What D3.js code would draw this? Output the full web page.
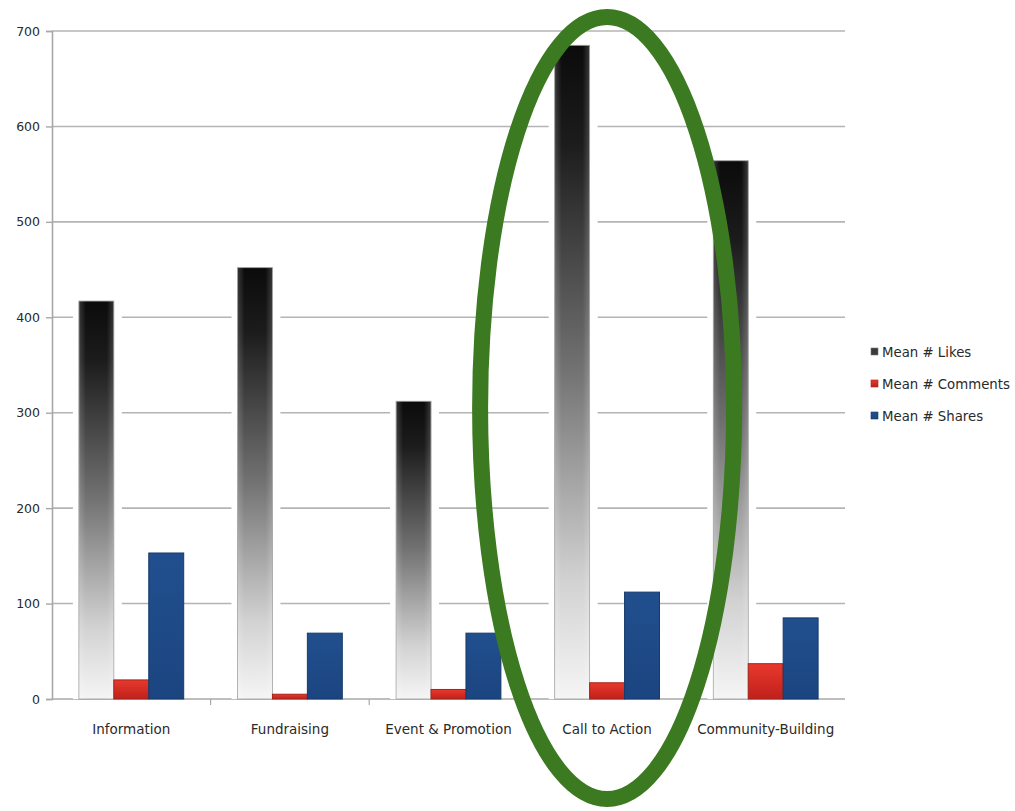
<!DOCTYPE html>
<html>
<head>
<meta charset="utf-8">
<script src="https://cdn.jsdelivr.net/npm/d3@7/dist/d3.min.js"></script>
<style>
  html, body { margin: 0; padding: 0; background: #fff; }
  svg { display: block; }
  text { font-family: "DejaVu Sans", "Lucida Grande", sans-serif; fill: #2a2a2a; }
</style>
</head>
<body>
<svg id="chart" width="1015" height="811"></svg>
<script>
// Post types and the mean engagement per post
const categories = ["Information", "Fundraising", "Event & Promotion", "Call to Action", "Community-Building"];
const seriesNames = ["Mean # Likes", "Mean # Comments", "Mean # Shares"];
const likes    = [417, 452, 312, 685, 564];
const comments = [20, 5, 10, 17, 37];
const shares   = [153, 69, 69, 112, 85];
const yTicks   = [0, 100, 200, 300, 400, 500, 600, 700];
const highlighted = "Call to Action";

const seriesValues = [likes, comments, shares];

const svg = d3.select("#chart");
const plot = { left: 52, right: 845, top: 31, bottom: 699 };

const x = d3.scaleBand().domain(categories).range([plot.left, plot.right]).padding(0);
const xs = d3.scaleBand().domain(seriesNames).range([0, x.bandwidth()]).paddingInner(0).paddingOuter(0.77);
const y = d3.scaleLinear().domain([0, 700]).range([plot.bottom, plot.top]);

// Gradients
const defs = svg.append("defs");
const gLikes = defs.append("linearGradient").attr("id", "likesGrad")
  .attr("x1", 0).attr("y1", 0).attr("x2", 0).attr("y2", 1);
[[0, "#0b0b0b"], [0.15, "#1c1c1c"], [0.5, "#737373"], [0.82, "#d2d2d2"], [1, "#f5f5f5"]]
  .forEach(([o, c]) => gLikes.append("stop").attr("offset", o).attr("stop-color", c));
const gLikesH = defs.append("linearGradient").attr("id", "likesSheen")
  .attr("x1", 0).attr("y1", 0).attr("x2", 1).attr("y2", 0);
[[0, "#ffffff", 0.18], [0.2, "#ffffff", 0], [0.8, "#ffffff", 0], [1, "#ffffff", 0.18]]
  .forEach(([o, c, a]) => gLikesH.append("stop").attr("offset", o).attr("stop-color", c).attr("stop-opacity", a));
const gRed = defs.append("linearGradient").attr("id", "redGrad")
  .attr("x1", 0).attr("y1", 0).attr("x2", 0).attr("y2", 1);
[[0, "#e8392c"], [1, "#c0201b"]]
  .forEach(([o, c]) => gRed.append("stop").attr("offset", o).attr("stop-color", c));
const gBlue = defs.append("linearGradient").attr("id", "blueGrad")
  .attr("x1", 0).attr("y1", 0).attr("x2", 0).attr("y2", 1);
[[0, "#214f8e"], [1, "#1b4580"]]
  .forEach(([o, c]) => gBlue.append("stop").attr("offset", o).attr("stop-color", c));

const fills = ["url(#likesGrad)", "url(#redGrad)", "url(#blueGrad)"];
const strokes = ["#9a9a9a", "#a3241d", "#163a6a"];

// Gridlines
svg.append("g")
  .selectAll("line").data(yTicks.filter(d => d > 0)).join("line")
  .attr("x1", plot.left).attr("x2", plot.right)
  .attr("y1", d => y(d)).attr("y2", d => y(d))
  .attr("stroke", "#b4b4b4").attr("stroke-width", 1.6);

// Y axis
const yAxis = svg.append("g").attr("transform", `translate(${plot.left},0)`)
  .call(d3.axisLeft(y).tickValues(yTicks).tickSize(6).tickPadding(6));
yAxis.select(".domain").attr("stroke", "#a8a8a8").attr("stroke-width", 1.6);
yAxis.selectAll(".tick line").attr("stroke", "#a8a8a8").attr("stroke-width", 1.4);
yAxis.selectAll(".tick text").style("font-size", "12.5px").attr("fill", "#2a2a2a");

// X axis baseline with separators between categories
svg.append("line")
  .attr("x1", plot.left).attr("x2", plot.right)
  .attr("y1", plot.bottom).attr("y2", plot.bottom)
  .attr("stroke", "#a8a8a8").attr("stroke-width", 1.6);
svg.append("g").selectAll("line").data(categories.slice(1)).join("line")
  .attr("x1", d => x(d)).attr("x2", d => x(d))
  .attr("y1", plot.bottom).attr("y2", plot.bottom + 6)
  .attr("stroke", "#a8a8a8").attr("stroke-width", 1.2);
svg.append("g").selectAll("text").data(categories).join("text")
  .attr("x", d => x(d) + x.bandwidth() / 2)
  .attr("y", 734)
  .attr("text-anchor", "middle")
  .style("font-size", "13.5px")
  .text(d => d);

// Bars
const groups = svg.append("g").selectAll("g").data(categories).join("g")
  .attr("transform", d => `translate(${x(d)},0)`);

groups.each(function(cat, ci) {
  const g = d3.select(this);
  seriesNames.forEach((s, si) => {
    const v = seriesValues[si][ci];
    const bx = xs(s), bw = xs.bandwidth(), by = y(v), bh = y(0) - y(v);
    if (si === 0) {
      // soft white halo behind the gradient bars
      g.append("rect")
        .attr("x", bx - 6).attr("y", by - 3)
        .attr("width", bw + 14).attr("height", bh + 3)
        .attr("fill", "#fff");
    }
    g.append("rect")
      .attr("x", bx).attr("y", by).attr("width", bw).attr("height", bh)
      .attr("fill", fills[si])
      .attr("stroke", strokes[si]).attr("stroke-width", si === 0 ? 0.8 : 1);
    if (si === 0) {
      g.append("rect")
        .attr("x", bx).attr("y", by).attr("width", bw).attr("height", bh)
        .attr("fill", "url(#likesSheen)");
    }
  });
});

// Legend
const legend = svg.append("g");
const legendY = [353, 385, 417];
seriesNames.forEach((s, i) => {
  legend.append("rect")
    .attr("x", 871).attr("y", legendY[i] - 5).attr("width", 7).attr("height", 7)
    .attr("fill", i === 0 ? "#3a3a3a" : fills[i])
    .attr("stroke", i === 0 ? "#777" : strokes[i]).attr("stroke-width", 0.6);
  legend.append("text")
    .attr("x", 882).attr("y", legendY[i] + 4)
    .style("font-size", "13.3px")
    .text(s);
});

// Highlight ring around one category
svg.append("ellipse")
  .attr("cx", x(highlighted) + x.bandwidth() / 2)
  .attr("cy", 408)
  .attr("rx", 127)
  .attr("ry", 391)
  .attr("fill", "none")
  .attr("stroke", "#3b7a20")
  .attr("stroke-width", 16);
</script>
</body>
</html>
